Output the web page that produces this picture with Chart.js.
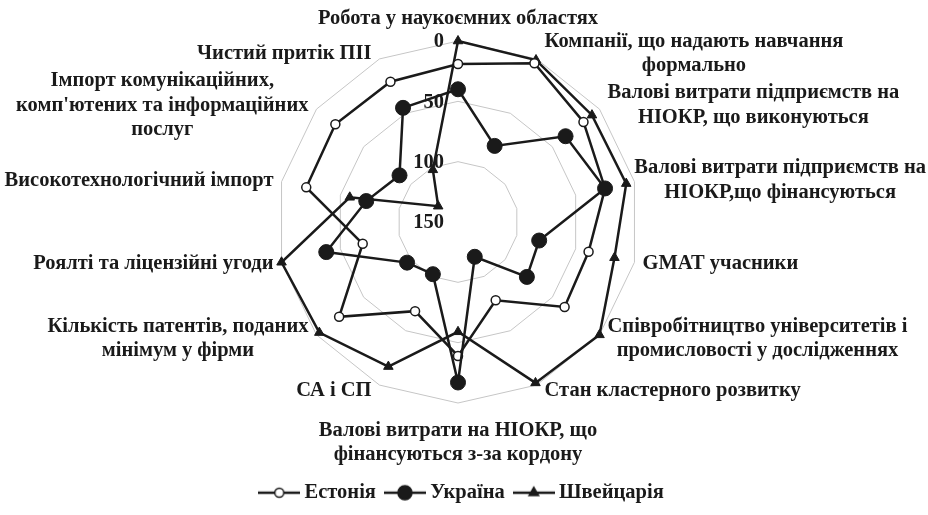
<!DOCTYPE html>
<html lang="uk">
<head>
  <meta charset="UTF-8" />
  <title>Інноваційний профіль: Естонія, Україна, Швейцарія</title>
  <script src="https://cdn.jsdelivr.net/npm/chart.js"></script>
  <style>
    html, body { margin: 0; padding: 0; background: #fff; }
    .chart-box { width: 928px; height: 515px; }
  </style>
</head>
<body>
  <div class="chart-box"><canvas id="radarChart"></canvas></div>

  <script>
    // categories, clockwise from the top
    const categories = [
      "Робота у наукоємних областях",
      ["Компанії, що надають навчання", "формально"],
      ["Валові витрати підприємств на", "НІОКР, що виконуються"],
      ["Валові витрати підприємств на", "НІОКР,що фінансуються"],
      "GMAT учасники",
      ["Співробітництво університетів і", "промисловості у дослідженнях"],
      "Стан кластерного розвитку",
      ["Валові витрати на НІОКР, що", "фінансуються з-за кордону"],
      "СА і СП",
      ["Кількість патентів, поданих", "мінімум у фірми"],
      "Роялті та ліцензійні угоди",
      "Високотехнологічний імпорт",
      ["Імпорт комунікаційних,", "комп'ютених та інформаційних", "послуг"],
      "Чистий притік ПІІ"
    ];

    const estonia     = [19, 4, 17, 25, 39, 37, 78, 39, 68, 24, 69, 21, 20, 21];
    const ukraine     = [40, 80, 36, 25, 81, 77, 118, 17, 102, 96, 38, 72, 88, 45];
    const switzerland = [0, 1, 8, 7, 17, 0, 2, 59, 17, 3, 0, 58, 129, 102];

    const seriesNames = ["Естонія", "Україна", "Швейцарія"];
    const tickValues = [0, 50, 100, 150];

    const FONT = "'Liberation Serif', 'Times New Roman', serif";
    const FONT_SIZE = 20.5;
    const INK = "#1a1a1a";

    Chart.defaults.font.family = FONT;
    Chart.defaults.font.size = FONT_SIZE;
    Chart.defaults.font.weight = "bold";
    Chart.defaults.color = INK;

    // little "line + marker" pictures for the legend
    function legendIcon(kind) {
      const c = document.createElement("canvas");
      c.width = 42; c.height = 18;
      const g = c.getContext("2d");
      g.strokeStyle = INK; g.lineWidth = 2.5;
      g.beginPath(); g.moveTo(0, 9); g.lineTo(42, 9); g.stroke();
      g.lineWidth = 1.5;
      g.beginPath();
      if (kind === "triangle") {
        const r = 5.5;
        for (let k = 0; k < 3; k++) {
          const a = k * 2 * Math.PI / 3;
          const px = 21 + Math.sin(a) * r, py = 9 - Math.cos(a) * r;
          k === 0 ? g.moveTo(px, py) : g.lineTo(px, py);
        }
        g.closePath();
        g.fillStyle = INK;
      } else if (kind === "big") {
        g.arc(21, 9, 7, 0, Math.PI * 2);
        g.fillStyle = INK;
      } else {
        g.arc(21, 9, 4.5, 0, Math.PI * 2);
        g.fillStyle = "#fff";
      }
      g.fill(); g.stroke();
      return c;
    }
    const icons = [legendIcon("open"), legendIcon("big"), legendIcon("triangle")];

    // category names and tick numbers, placed like the original
    const axisText = {
      id: "axisText",
      beforeDatasetsDraw(chart) {
        const scale = chart.scales.r;
        const ctx = chart.ctx;
        const lineH = 24.5;
        ctx.save();
        ctx.font = "bold " + FONT_SIZE + "px " + FONT;
        ctx.fillStyle = INK;
        ctx.textBaseline = "middle";
        ctx.textAlign = "center";
        categories.forEach((lab, i) => {
          const lines = Array.isArray(lab) ? lab : [lab];
          const p = scale.getPointPosition(i, scale.drawingArea);
          const ang = i * 2 * Math.PI / categories.length;
          const s = Math.sin(ang), c = Math.cos(ang);
          const w = Math.max(...lines.map(t => ctx.measureText(t).width));
          const h = lines.length * lineH;
          let cx, cy;
          if (Math.abs(s) < 0.01) {
            cx = p.x;
            cy = c > 0 ? p.y - 10 - h / 2 : p.y + 15 + h / 2;
          } else {
            cx = s > 0 ? p.x + 8 + w / 2 : p.x - 8 - w / 2;
            cy = p.y - c * 6;
          }
          // keep the block inside the canvas
          cx = Math.min(Math.max(cx, w / 2 + 2), chart.width - w / 2 - 2);
          lines.forEach((t, k) => ctx.fillText(t, cx, cy - h / 2 + lineH * (k + 0.5)));
        });
        ctx.textAlign = "right";
        tickValues.forEach(v => {
          ctx.fillText(String(v), scale.xCenter - 14,
            scale.yCenter - scale.getDistanceFromCenterForValue(v) + 1);
        });
        ctx.restore();
      }
    };

    const ctx = document.getElementById("radarChart").getContext("2d");
    new Chart(ctx, {
      type: "radar",
      data: {
        labels: categories,
        datasets: [
          {
            label: seriesNames[0], data: estonia, order: 2,
            borderColor: INK, borderWidth: 2.5, fill: false,
            pointStyle: "circle", pointRadius: 4.5,
            pointBackgroundColor: "#fff", pointBorderColor: INK, pointBorderWidth: 1.5
          },
          {
            label: seriesNames[1], data: ukraine, order: 1,
            borderColor: INK, borderWidth: 2.5, fill: false,
            pointStyle: "circle", pointRadius: 7.5,
            pointBackgroundColor: INK, pointBorderColor: INK, pointBorderWidth: 1
          },
          {
            label: seriesNames[2], data: switzerland, order: 3,
            borderColor: INK, borderWidth: 2.5, fill: false,
            pointStyle: "triangle", pointRadius: 5.5,
            pointBackgroundColor: INK, pointBorderColor: INK, pointBorderWidth: 1
          }
        ]
      },
      options: {
        responsive: true,
        maintainAspectRatio: false,
        animation: false,
        layout: { padding: { bottom: 2 } },
        elements: { line: { tension: 0 } },
        scales: {
          r: {
            min: 0,
            max: 150,
            reverse: true,
            ticks: { display: false, stepSize: 50 },
            grid: { circular: false, color: "#c6c6c6", lineWidth: 1 },
            angleLines: { display: false },
            pointLabels: { display: false },
            afterBuildTicks(scale) {
              scale.ticks = [...tickValues].reverse().map(v => ({ value: v }));
            },
            afterFit(scale) {
              scale.xCenter = 458;
              scale.yCenter = 222;
              scale.drawingArea = 181;
            }
          }
        },
        plugins: {
          tooltip: { enabled: false },
          legend: {
            position: "bottom",
            labels: {
              usePointStyle: true,
              pointStyleWidth: 30,
              padding: 14,
              color: INK,
              font: { size: FONT_SIZE, weight: "bold", family: FONT },
              generateLabels: (chart) => chart.data.datasets.map((ds, i) => ({
                text: ds.label,
                pointStyle: icons[i],
                datasetIndex: i,
                hidden: false,
                lineWidth: 0,
                fillStyle: "transparent",
                strokeStyle: "transparent",
                fontColor: INK
              }))
            }
          }
        }
      },
      plugins: [axisText]
    });
  </script>
</body>
</html>
